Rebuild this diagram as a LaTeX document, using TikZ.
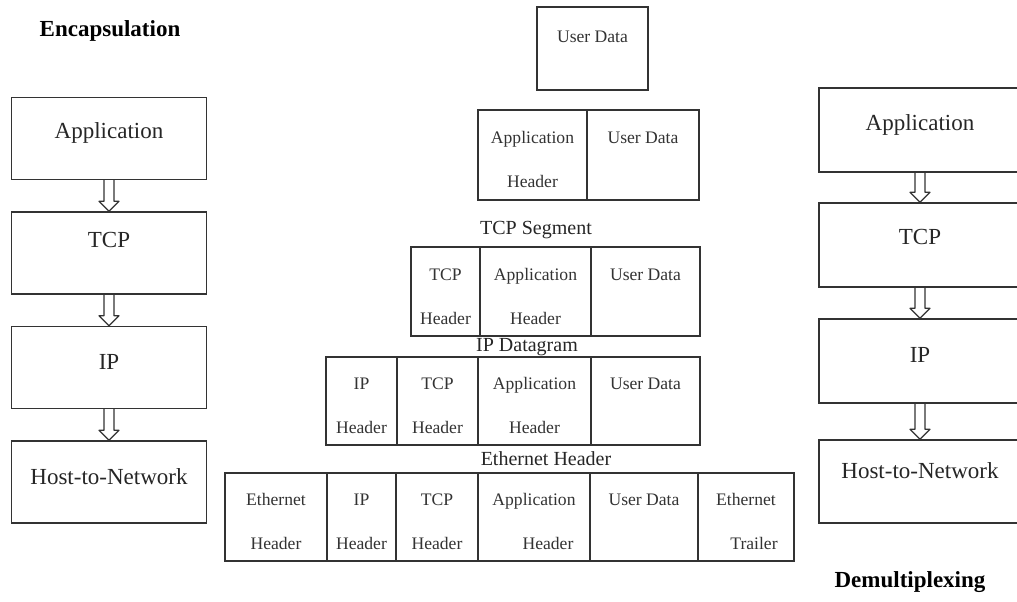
\documentclass[tikz,border=0pt]{standalone}
\usepackage{fontspec}
\setmainfont{Liberation Serif}
\usetikzlibrary{calc}
\newcommand{\Tup}{\rule{0pt}{11pt}}
\tikzset{
  ln/.style={draw=black!80, line width=0.7pt},
  bigbox/.style={ln, rectangle, inner sep=0pt, minimum height=41pt},
  bigtxt/.style={font=\fontsize{11.5}{14}\selectfont, text=black!85, inner sep=0pt},
  cell/.style={ln, rectangle, inner sep=0pt, align=center, font=\fontsize{8.8}{22}\selectfont, text=black!80},
  celltxt/.style={inner sep=0pt, font=\fontsize{8.8}{11}\selectfont, text=black!80},
  lbl/.style={font=\fontsize{10}{12}\selectfont, text=black!85, inner sep=0pt},
  headline/.style={font=\fontsize{11.5}{14}\selectfont\bfseries, text=black, inner sep=0pt},
  hollow/.style={ln, line width=0.6pt, line join=round, to path={let \p1=(\tikztostart), \p2=(\tikztotarget) in
    (\x1-2.5pt,\y1) -- (\x1-2.5pt,\y2+5pt) -- (\x1-5pt,\y2+5pt) -- (\x1,\y2) -- (\x1+5pt,\y2+5pt) -- (\x1+2.5pt,\y2+5pt) -- (\x1+2.5pt,\y1)}},
}
\begin{document}
\begin{tikzpicture}[x=0.5pt,y=-0.5pt]
\useasboundingbox (0,0) rectangle (1017,601);
\clip (0,0) rectangle (1017,601);
\fill[white] (0,0) rectangle (1017,601);

% titles
\node[headline] (enc) at (110,31) {Encapsulation};
\node[headline] (dem) at (910,582) {Demultiplexing};

% left column
\node[bigbox, minimum width=97.5pt] (la) at (109,138.5) {};
\node[bigbox, minimum width=97.5pt] (lt) at (109,253) {};
\node[bigbox, minimum width=97.5pt] (li) at (109,367.5) {};
\node[bigbox, minimum width=97.5pt] (lh) at (109,482) {};
\node[bigtxt] (la-t) at (109,133) {Application};
\node[bigtxt] (lt-t) at (109,240) {TCP};
\node[bigtxt] (li-t) at (109,362) {IP};
\node[bigtxt] (lh-t) at (109,477) {Host-to-Network};
\draw[hollow] (la.south) to (lt.north);
\draw[hollow] (lt.south) to (li.north);
\draw[hollow] (li.south) to (lh.north);

% right column
\node[bigbox, minimum width=101pt, minimum height=42pt] (ra) at (920,130) {};
\node[bigbox, minimum width=101pt, minimum height=42pt] (rt) at (920,245) {};
\node[bigbox, minimum width=101pt, minimum height=42pt] (ri) at (920,361) {};
\node[bigbox, minimum width=101pt, minimum height=41.5pt] (rh) at (920,481.5) {};
\node[bigtxt] (ra-t) at (920,125) {Application};
\node[bigtxt] (rt-t) at (920,237) {TCP};
\node[bigtxt] (ri-t) at (920,355) {IP};
\node[bigtxt] (rh-t) at (920,471) {Host-to-Network};
\draw[hollow] (ra.south) to (rt.north);
\draw[hollow] (rt.south) to (ri.north);
\draw[hollow] (ri.south) to (rh.north);

% user data
\node[cell, minimum width=55.5pt, minimum height=41.5pt] (ud) at (592.5,48.5) {};
\node[celltxt] (ud-t) at (592.5,37) {User Data};

% application header row
\node[cell, minimum width=54.5pt, minimum height=45pt] (r1a) at (532.5,155) {\Tup Application\\Header};
\node[cell, minimum width=56pt, minimum height=45pt] (r1b) at (643,155) {\Tup User Data\\\phantom{Header}};

% TCP segment
\node[lbl] (tcpseg) at (536,230) {TCP Segment};
\node[cell, minimum width=34.5pt, minimum height=44.5pt] (r2a) at (445.5,291.5) {\Tup TCP\\Header};
\node[cell, minimum width=55.5pt, minimum height=44.5pt] (r2b) at (535.5,291.5) {\Tup Application\\Header};
\node[cell, minimum width=54.5pt, minimum height=44.5pt] (r2c) at (645.5,291.5) {\Tup User Data\\\phantom{Header}};

% IP datagram
\node[lbl] (ipdg) at (527,347) {IP Datagram};
\node[cell, minimum width=35.5pt, minimum height=44pt] (r3a) at (361.5,401) {\Tup IP\\Header};
\node[cell, minimum width=40.5pt, minimum height=44pt] (r3b) at (437.5,401) {\Tup TCP\\Header};
\node[cell, minimum width=56.5pt, minimum height=44pt] (r3c) at (534.5,401) {\Tup Application\\Header};
\node[cell, minimum width=54.5pt, minimum height=44pt] (r3d) at (645.5,401) {\Tup User Data\\\phantom{Header}};

% Ethernet frame
\node[lbl] (ethh) at (546,459) {Ethernet Header};
\node[cell, minimum width=51pt, minimum height=44pt] (r4a) at (276,517) {\Tup Ethernet\\Header};
\node[cell, minimum width=34.5pt, minimum height=44pt] (r4b) at (361.5,517) {\Tup IP\\Header};
\node[cell, minimum width=41pt, minimum height=44pt] (r4c) at (437,517) {\Tup TCP\\Header};
\node[cell, minimum width=56pt, minimum height=44pt] (r4d) at (534,517) {\Tup Application\\\hspace*{14pt}Header};
\node[cell, minimum width=54pt, minimum height=44pt] (r4e) at (644,517) {\Tup User Data\\\phantom{Header}};
\node[cell, minimum width=48pt, minimum height=44pt] (r4f) at (746,517) {\Tup Ethernet\\\hspace*{8pt}Trailer};
\end{tikzpicture}
\end{document}
